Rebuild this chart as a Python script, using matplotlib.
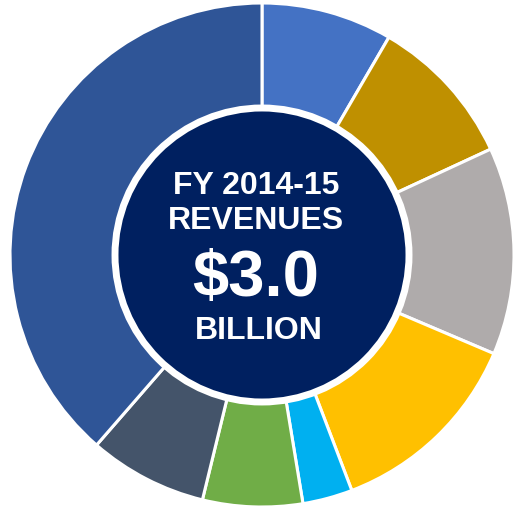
import matplotlib.pyplot as plt
from matplotlib.patches import Circle

# revenue shares (percent), clockwise from 12 o'clock
shares = [8.4, 9.7, 13.3, 12.8, 3.2, 6.4, 7.6, 38.6]
colors = ['#4472C4', '#BF9000', '#AFABAB', '#FFC000', '#00B0F0',
          '#70AD47', '#44546A', '#2F5597']

plt.rcParams['font.family'] = ['Liberation Sans', 'DejaVu Sans']

W, H = 513, 508
fig = plt.figure(figsize=(W / 100, H / 100), dpi=100)
ax = fig.add_axes([0, 0, 1, 1])

# pixel positions measured from the top, flipped for the axes
cx, cy, R = 262, H - 255, 252
ax.pie(shares, colors=colors, startangle=90, counterclock=False,
       center=(cx, cy), radius=R,
       wedgeprops=dict(edgecolor='white', linewidth=2.2))

# centre disc
ax.add_patch(Circle((cx, cy), 147, facecolor='#002060',
                    edgecolor='white', linewidth=5, zorder=5))

ax.text(256, H - 186, 'FY 2014-15', color='white', fontsize=23,
        fontweight='bold', ha='center', va='center', zorder=6)
ax.text(256, H - 221, 'REVENUES', color='white', fontsize=23,
        fontweight='bold', ha='center', va='center', zorder=6)
ax.text(256, H - 279, '$3.0', color='white', fontsize=47,
        fontweight='bold', ha='center', va='center', zorder=6)
ax.text(259, H - 331, 'BILLION', color='white', fontsize=23,
        fontweight='bold', ha='center', va='center', zorder=6)

ax.set_xlim(0, W)
ax.set_ylim(0, H)
ax.set_aspect('equal')
ax.axis('off')

fig.savefig('out.png', dpi=100)
